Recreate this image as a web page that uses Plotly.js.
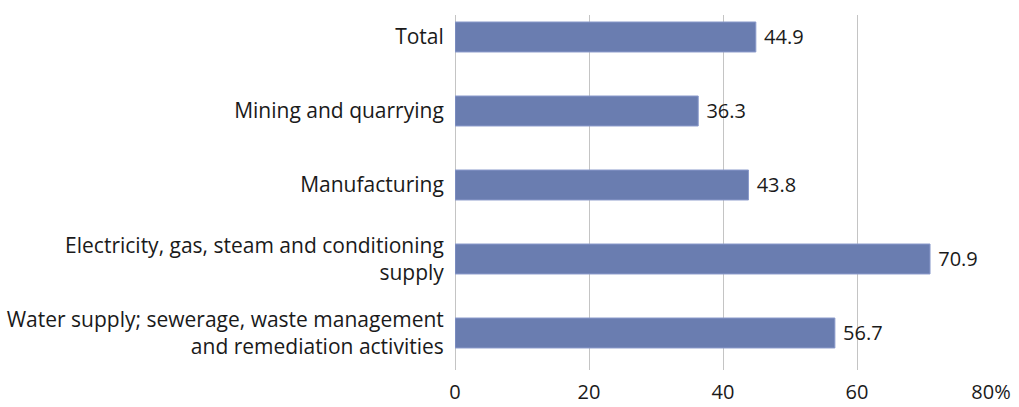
<!DOCTYPE html>
<html>
<head>
<meta charset="utf-8">
<script src="https://cdn.plot.ly/plotly-3.0.1.min.js"></script>
<style>html,body{margin:0;padding:0;background:#fff;}#chart{width:1019px;height:407px;}</style>
</head>
<body>
<div id="chart"></div>
<script>
const categories = [
  "Total",
  "Mining and quarrying",
  "Manufacturing",
  "Electricity, gas, steam and conditioning<br>supply",
  "Water supply; sewerage, waste management<br>and remediation activities"
];
const values = [44.9, 36.3, 43.8, 70.9, 56.7];
const tickValues = [0, 20, 40, 60, 80];
const tickLabels = ["0", "20", "40", "60", "80%"];

const font = "Open Sans, Noto Sans, sans-serif";

Plotly.newPlot("chart", [{
  type: "bar",
  orientation: "h",
  y: categories,
  x: values,
  width: 0.405,
  marker: {color: "#6a7db0", line: {color: "#8a9acb", width: 1}},
  text: values.map(v => v.toFixed(1)),
  textposition: "outside",
  texttemplate: " %{text}",
  textfont: {family: font, size: 20, color: "#1a1a1a"},
  cliponaxis: false,
  hoverinfo: "none"
}], {
  width: 1019, height: 407,
  margin: {l: 455, r: 28, t: 15, b: 37, pad: 0},
  paper_bgcolor: "#fff", plot_bgcolor: "#fff",
  showlegend: false,
  font: {family: font, size: 20, color: "#1a1a1a"},
  xaxis: {
    range: [0, 80],
    tickvals: tickValues,
    ticktext: tickLabels,
    showgrid: true, gridcolor: "#c4c4c4", gridwidth: 1,
    zeroline: true, zerolinecolor: "#c4c4c4", zerolinewidth: 1,
    showline: false,
    ticks: "outside", ticklen: 4, tickcolor: "rgba(0,0,0,0)",
    tickfont: {family: font, size: 20, color: "#1a1a1a"},
    fixedrange: true
  },
  yaxis: {
    type: "category",
    range: [4.5, -0.297],
    showgrid: false, zeroline: false, showline: false,
    ticks: "outside", ticklen: 6, tickcolor: "rgba(0,0,0,0)",
    tickfont: {family: font, size: 21, color: "#1a1a1a"},
    fixedrange: true
  }
}, {displayModeBar: false, staticPlot: true});
</script>
</body>
</html>
